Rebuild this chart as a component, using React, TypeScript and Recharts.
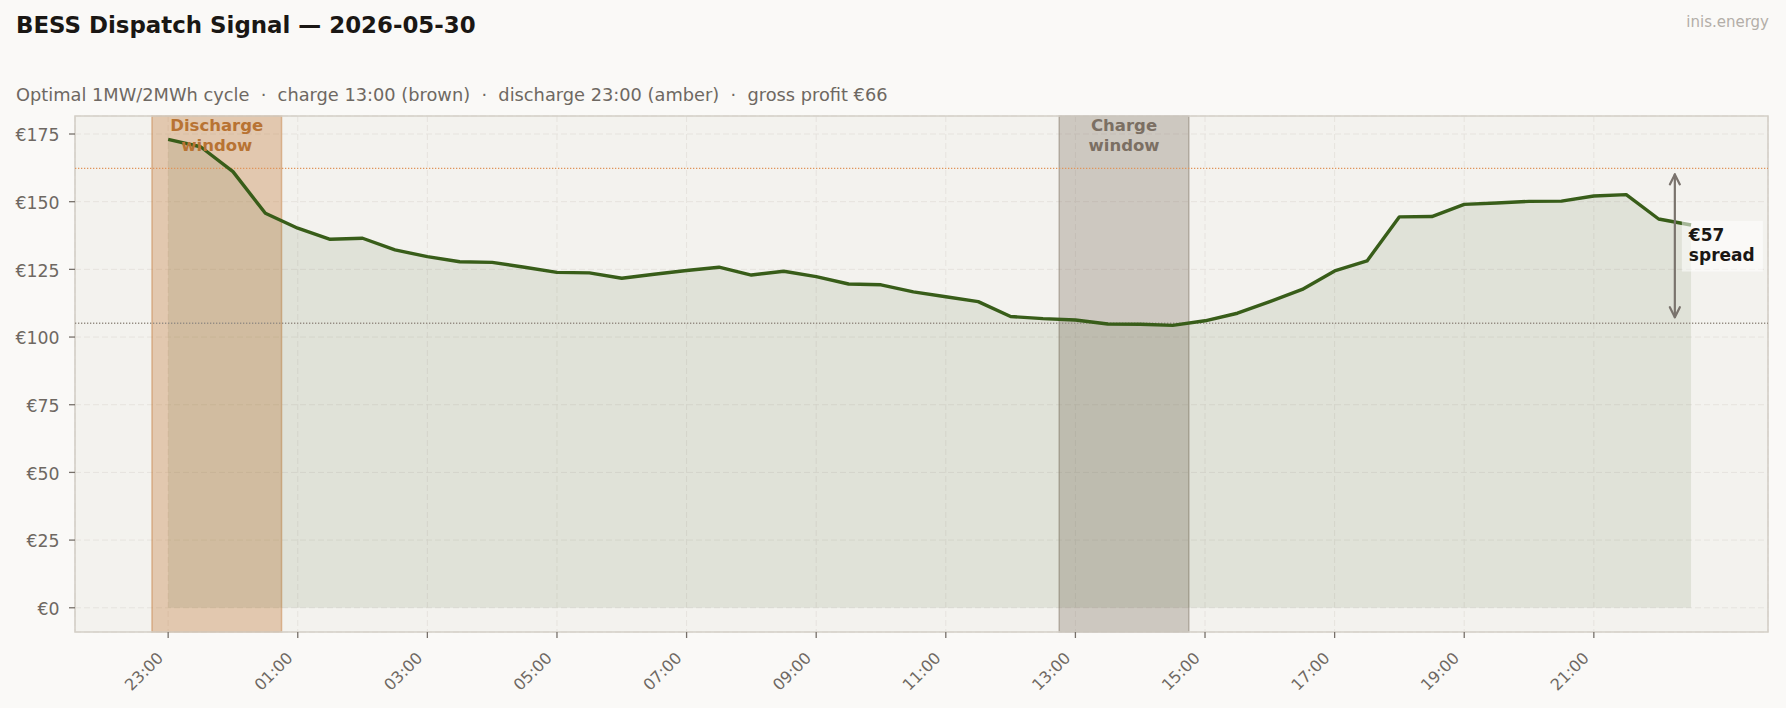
import React from "react";
import {
  ComposedChart,
  Area,
  Line,
  XAxis,
  YAxis,
  CartesianGrid,
  ReferenceArea,
  ReferenceLine,
  ReferenceDot,
} from "recharts";

// ---- data ----
const SLOT_LABELS = [
  "23:00", "23:30", "00:00", "00:30", "01:00", "01:30", "02:00", "02:30",
  "03:00", "03:30", "04:00", "04:30", "05:00", "05:30", "06:00", "06:30",
  "07:00", "07:30", "08:00", "08:30", "09:00", "09:30", "10:00", "10:30",
  "11:00", "11:30", "12:00", "12:30", "13:00", "13:30", "14:00", "14:30",
  "15:00", "15:30", "16:00", "16:30", "17:00", "17:30", "18:00", "18:30",
  "19:00", "19:30", "20:00", "20:30", "21:00", "21:30", "22:00", "22:30",
];

// hours after 23:00 for each slot
const SLOT_HOURS = [
  0, 0.5, 1, 1.5, 2, 2.5, 3, 3.5, 4, 4.5, 5, 5.5, 6, 6.5, 7, 7.5,
  8, 8.5, 9, 9.5, 10, 10.5, 11, 11.5, 12, 12.5, 13, 13.5, 14, 14.5, 15, 15.5,
  16, 16.5, 17, 17.5, 18, 18.5, 19, 19.5, 20, 20.5, 21, 21.5, 22, 22.5, 23, 23.5,
];

const PRICES = [
  173.0, 170.3, 161.1, 145.7, 140.2, 136.1, 136.5, 132.2,
  129.7, 127.8, 127.6, 125.8, 123.9, 123.7, 121.7, 123.2,
  124.6, 125.8, 122.9, 124.3, 122.3, 119.6, 119.3, 116.7,
  114.9, 113.1, 107.6, 106.8, 106.3, 104.8, 104.7, 104.3,
  106.0, 108.8, 113.1, 117.6, 124.4, 128.1, 144.4, 144.5,
  149.0, 149.5, 150.1, 150.2, 152.1, 152.6, 143.6, 141.4,
];

const X_TICKS = [0, 2, 4, 6, 8, 10, 12, 14, 16, 18, 20, 22];
const X_TICK_LABELS = [
  "23:00", "01:00", "03:00", "05:00", "07:00", "09:00",
  "11:00", "13:00", "15:00", "17:00", "19:00", "21:00",
];
const Y_TICKS = [0, 25, 50, 75, 100, 125, 150, 175];

const DISCHARGE_WINDOW = [-0.25, 1.75];
const CHARGE_WINDOW = [13.75, 15.75];
const DISCHARGE_AVG = 162.3;
const CHARGE_AVG = 105.1;
const SPREAD_X = 23.25;
const SPREAD_LABEL = ["€57", "spread"];

const X_DOMAIN = [-1.4375, 24.6875];
const Y_DOMAIN = [-8.95, 181.65];

const data = PRICES.map((p, i) => ({ t: SLOT_HOURS[i], slot: SLOT_LABELS[i], price: p }));

// ---- styles ----
const FONT = "'DejaVu Sans', sans-serif";
const LINE_COLOR = "#385d19";
const TICK_COLOR = "#6e6862";

const XTick = (props: any) => {
  const { x, y, payload } = props;
  const idx = X_TICKS.indexOf(payload.value);
  const ax = x - 4;
  const ay = y + 21;
  return (
    <text
      x={ax}
      y={ay}
      transform={`rotate(-45 ${ax} ${ay})`}
      textAnchor="end"
      fill={TICK_COLOR}
      fontSize={16}
      fontFamily={FONT}
    >
      {X_TICK_LABELS[idx]}
    </text>
  );
};

const YTick = (props: any) => {
  const { x, y, payload } = props;
  return (
    <text
      x={x}
      y={y + 7.2}
      textAnchor="end"
      fill={TICK_COLOR}
      fontSize={17.3}
      fontFamily={FONT}
    >
      {`€${payload.value}`}
    </text>
  );
};

const ArrowShape = (p: any) => {
  const x = p.x1;
  const ya = Math.min(p.y1, p.y2) + 6;
  const yb = Math.max(p.y1, p.y2) - 6;
  return (
    <g stroke="#7a736d" strokeWidth={2.2} fill="none" strokeLinecap="round" strokeLinejoin="round">
      <line x1={x} y1={ya} x2={x} y2={yb} />
      <polyline points={`${x - 5},${ya + 10} ${x},${ya} ${x + 5},${ya + 10}`} />
      <polyline points={`${x - 5},${yb - 10} ${x},${yb} ${x + 5},${yb - 10}`} />
    </g>
  );
};

const windowLabel = (lines: string[], color: string) => (p: any) => {
  const { cx, cy } = p;
  return (
    <text
      x={cx}
      y={cy}
      textAnchor="middle"
      fill={color}
      fontSize={16.5}
      fontWeight="bold"
      fontFamily={FONT}
    >
      <tspan x={cx} y={cy + 15.3}>{lines[0]}</tspan>
      <tspan x={cx} y={cy + 34.5}>{lines[1]}</tspan>
    </text>
  );
};

const SpreadLabel = (p: any) => {
  const { cx, cy } = p;
  const bx = cx + 7;
  return (
    <g>
      <rect x={bx} y={cy - 25} width={81} height={50.7} fill="#ffffff" fillOpacity={0.55} />
      <text fill="#1a1714" fontSize={17} fontWeight="bold" fontFamily={FONT}>
        <tspan x={bx + 7} y={cy - 4.5}>{SPREAD_LABEL[0]}</tspan>
        <tspan x={bx + 7} y={cy + 15.3}>{SPREAD_LABEL[1]}</tspan>
      </text>
    </g>
  );
};

export default function App() {
  return (
    <div
      style={{
        position: "absolute",
        left: 0,
        top: 0,
        width: 1786,
        height: 708,
        background: "#faf9f7",
        overflow: "hidden",
      }}
    >
      <div style={{ position: "absolute", left: 0, top: 0 }}>
        <ComposedChart
          width={1786}
          height={708}
          data={data}
          margin={{ top: 116, right: 18, bottom: 0, left: 0 }}
        >
          <CartesianGrid
            fill="#f3f2ee"
            fillOpacity={1}
            stroke="#e6e3de"
            strokeDasharray="6 3"
            strokeWidth={1}
          />
          <XAxis
            dataKey="t"
            type="number"
            domain={X_DOMAIN}
            ticks={X_TICKS}
            interval={0}
            allowDataOverflow
            height={76}
            tickSize={6}
            tickMargin={0}
            axisLine={false}
            tickLine={{ stroke: "#77706a", strokeWidth: 1.3 }}
            tick={<XTick />}
          />
          <YAxis
            type="number"
            domain={Y_DOMAIN}
            ticks={Y_TICKS}
            interval={0}
            allowDataOverflow
            width={75}
            tickSize={6}
            tickMargin={9.5}
            axisLine={false}
            tickLine={{ stroke: "#77706a", strokeWidth: 1.3 }}
            tick={<YTick />}
          />
          <ReferenceArea
            x1={DISCHARGE_WINDOW[0]}
            x2={DISCHARGE_WINDOW[1]}
            y1={Y_DOMAIN[0]}
            y2={Y_DOMAIN[1]}
            fill="#c47a3a"
            fillOpacity={0.35}
            stroke="#c47a3a"
            strokeOpacity={0.45}
            strokeWidth={1.5}
            ifOverflow="visible"
          />
          <ReferenceArea
            x1={CHARGE_WINDOW[0]}
            x2={CHARGE_WINDOW[1]}
            y1={Y_DOMAIN[0]}
            y2={Y_DOMAIN[1]}
            fill="#8a7d70"
            fillOpacity={0.36}
            stroke="#8a7d70"
            strokeOpacity={0.5}
            strokeWidth={1.5}
            ifOverflow="visible"
          />
          <Area
            type="linear"
            dataKey="price"
            stroke="none"
            fill={LINE_COLOR}
            fillOpacity={0.1}
            baseValue={0}
            isAnimationActive={false}
            dot={false}
            activeDot={false}
          />
          <ReferenceLine
            y={DISCHARGE_AVG}
            stroke="#e0945a"
            strokeDasharray="1.3 1.7"
            strokeWidth={1.3}
          />
          <ReferenceLine
            y={CHARGE_AVG}
            stroke="#958c83"
            strokeDasharray="1.3 1.7"
            strokeWidth={1.3}
          />
          <Line
            type="linear"
            dataKey="price"
            stroke={LINE_COLOR}
            strokeWidth={3.4}
            dot={false}
            activeDot={false}
            strokeLinejoin="round"
            isAnimationActive={false}
          />
          <ReferenceLine
            segment={[
              { x: SPREAD_X, y: CHARGE_AVG },
              { x: SPREAD_X, y: DISCHARGE_AVG },
            ]}
            shape={ArrowShape}
            ifOverflow="visible"
          />
          <ReferenceDot
            x={(DISCHARGE_WINDOW[0] + DISCHARGE_WINDOW[1]) / 2}
            y={Y_DOMAIN[1]}
            r={0}
            ifOverflow="visible"
            shape={windowLabel(["Discharge", "window"], "#b87333")}
          />
          <ReferenceDot
            x={(CHARGE_WINDOW[0] + CHARGE_WINDOW[1]) / 2}
            y={Y_DOMAIN[1]}
            r={0}
            ifOverflow="visible"
            shape={windowLabel(["Charge", "window"], "#7b6f63")}
          />
          <ReferenceDot
            x={SPREAD_X}
            y={(DISCHARGE_AVG + CHARGE_AVG) / 2}
            r={0}
            ifOverflow="visible"
            shape={SpreadLabel}
          />
          <ReferenceArea
            x1={X_DOMAIN[0]}
            x2={X_DOMAIN[1]}
            y1={Y_DOMAIN[0]}
            y2={Y_DOMAIN[1]}
            fill="none"
            stroke="#d4cfc7"
            strokeWidth={1.6}
            ifOverflow="visible"
          />
        </ComposedChart>
      </div>
      <svg
        width={1786}
        height={120}
        style={{ position: "absolute", left: 0, top: 0, pointerEvents: "none" }}
      >
        <text x={16} y={32.7} fill="#1a1714" fontSize={22.9} fontWeight="bold" fontFamily={FONT}>
          BESS Dispatch Signal — 2026-05-30
        </text>
        <text x={16} y={100.7} fill="#6e6862" fontSize={17.8} fontFamily={FONT} xmlSpace="preserve">
          {"Optimal 1MW/2MWh cycle  ·  charge 13:00 (brown)  ·  discharge 23:00 (amber)  ·  gross profit €66"}
        </text>
        <text x={1769} y={26.7} textAnchor="end" fill="#b3aea8" fontSize={15} fontFamily={FONT}>
          inis.energy
        </text>
      </svg>
    </div>
  );
}
